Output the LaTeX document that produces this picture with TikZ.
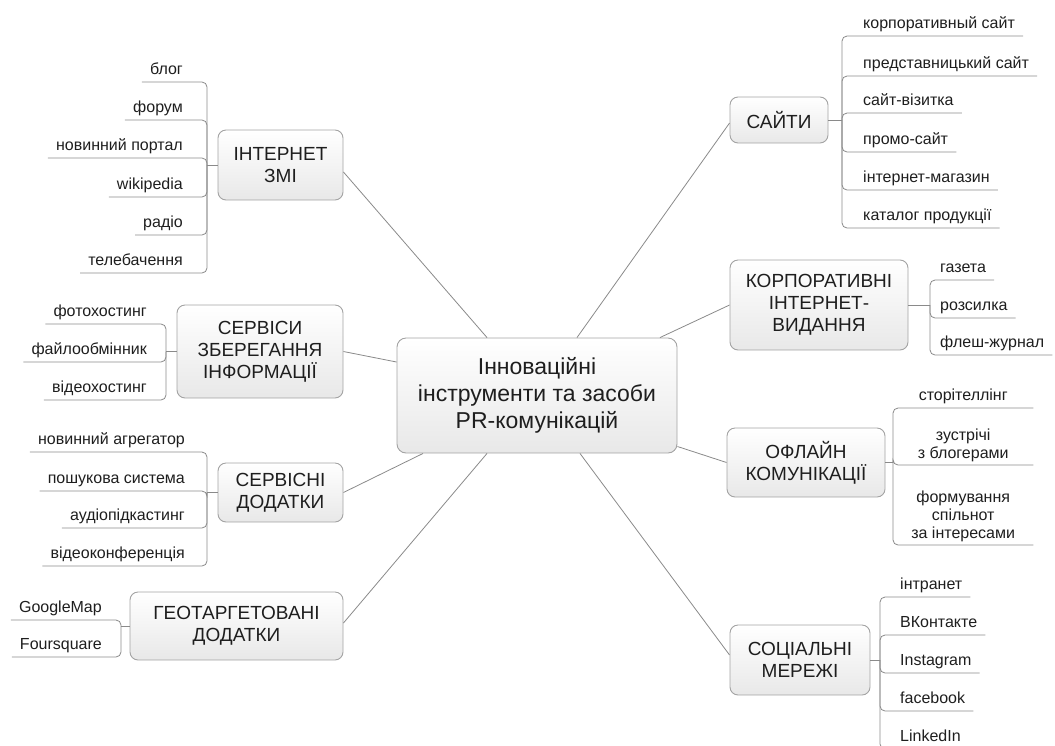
\documentclass[tikz,border=0pt]{standalone}
\usepackage{fontspec}
\setmainfont{Liberation Sans}
\usetikzlibrary{positioning, calc}
\definecolor{boxline}{HTML}{A3A3A3}
\definecolor{twigline}{HTML}{8A8A8A}
\definecolor{ink}{HTML}{1E1E1E}
\tikzset{
  hubbox/.style={draw=boxline, line width=0.9pt, rounded corners=9pt, top color=white, bottom color=black!9, align=center, text=ink, font=\fontsize{23}{27}\selectfont, minimum width=280pt, minimum height=115pt},
  branchbox/.style={draw=boxline, line width=0.9pt, rounded corners=8pt, top color=white, bottom color=black!9, align=center, text=ink, font=\fontsize{19}{22}\selectfont, inner sep=2pt},
  leaftext/.style={inner xsep=8pt, inner ysep=3pt, text height=11.5pt, text depth=4pt, text=ink, font=\fontsize{16}{18}\selectfont},
  leafmulti/.style={inner xsep=8pt, inner ysep=3pt, align=center, text=ink, font=\fontsize{16}{18}\selectfont},
  twig/.style={draw=twigline, line width=0.8pt, rounded corners=5pt},
  spoke/.style={draw=twigline, line width=0.8pt}
}
\begin{document}
\begin{tikzpicture}[x=1pt,y=-1pt]
        \useasboundingbox (0,0) rectangle (1055,745);
        \clip (0,0) rectangle (1055,745);
        %centro
        \node[hubbox] (hub) at (537,395.5) {Інноваційні\\інструменти та засоби\\PR-комунікацій};
        %gruppi a sinistra
        \node[branchbox, minimum width=125pt, minimum height=70pt] (zmi) at (280.5,165) {ІНТЕРНЕТ\\ЗМІ};
        \node[branchbox, minimum width=166pt, minimum height=93pt] (store) at (260,351.5) {СЕРВІСИ\\ЗБЕРЕГАННЯ\\ІНФОРМАЦІЇ};
        \node[branchbox, minimum width=125pt, minimum height=59pt] (serv) at (280.5,492.5) {СЕРВІСНІ\\ДОДАТКИ};
        \node[branchbox, minimum width=213pt, minimum height=68pt] (geo) at (236.5,626) {ГЕОТАРГЕТОВАНІ\\ДОДАТКИ};
        %gruppi a destra
        \node[branchbox, minimum width=98pt, minimum height=46pt] (sites) at (779,120) {САЙТИ};
        \node[branchbox, minimum width=178pt, minimum height=90pt] (korp) at (819,305) {КОРПОРАТИВНІ\\ІНТЕРНЕТ-\\ВИДАННЯ};
        \node[branchbox, minimum width=158pt, minimum height=69pt] (ofl) at (806,462.5) {ОФЛАЙН\\КОМУНІКАЦІЇ};
        \node[branchbox, minimum width=140pt, minimum height=70pt] (soc) at (800,660) {СОЦІАЛЬНІ\\МЕРЕЖІ};
        %raggi dal centro
        \draw[spoke] ([xshift=-50pt]hub.north) -- ([yshift=-7pt]zmi.east);
        \draw[spoke] ([yshift=33.5pt]hub.west) -- (store.east);
        \draw[spoke] ([xshift=-114pt]hub.south) -- (serv.east);
        \draw[spoke] ([xshift=-50pt]hub.south) -- ([yshift=3pt]geo.east);
        \draw[spoke] ([xshift=40pt]hub.north) -- ([yshift=-3pt]sites.west);
        \draw[spoke] ([xshift=123pt]hub.north) -- (korp.west);
        \draw[spoke] ([yshift=-51pt]hub.east) -- (ofl.west);
        \draw[spoke] ([xshift=43pt]hub.south) -- ([yshift=5pt]soc.west);
        %punti di raccordo
        \coordinate (zmiB) at (207,165);
        \coordinate (storeB) at (166,351.5);
        \coordinate (servB) at (207,492.5);
        \coordinate (geoB) at (121,626);
        \coordinate (sitesB) at (842,120);
        \coordinate (korpB) at (930,305);
        \coordinate (oflB) at (893,462.5);
        \coordinate (socB) at (880,660);
        \draw[twig] (zmiB) -- (zmi.west);
        \draw[twig] (storeB) -- (store.west);
        \draw[twig] (servB) -- (serv.west);
        \draw[twig] (geoB) -- (geo.west);
        \draw[twig] (sitesB) -- (sites.east);
        \draw[twig] (korpB) -- (korp.east);
        \draw[twig] (oflB) -- (ofl.east);
        \draw[twig] (socB) -- (soc.east);
        %foglie ІНТЕРНЕТ ЗМІ
        \node[leaftext, anchor=south east] (zmi1) at (191,82) {блог};
        \node[leaftext, anchor=south east] (zmi2) at (191,120) {форум};
        \node[leaftext, anchor=south east] (zmi3) at (191,158) {новинний портал};
        \node[leaftext, anchor=south east] (zmi4) at (191,197) {wikipedia};
        \node[leaftext, anchor=south east] (zmi5) at (191,235) {радіо};
        \node[leaftext, anchor=south east] (zmi6) at (191,273) {телебачення};
        \draw[twig] (zmi1.south west) -- (zmi1.south west -| zmiB) -- (zmiB);
        \draw[twig] (zmi2.south west) -- (zmi2.south west -| zmiB) -- (zmiB);
        \draw[twig] (zmi3.south west) -- (zmi3.south west -| zmiB) -- (zmiB);
        \draw[twig] (zmi4.south west) -- (zmi4.south west -| zmiB) -- (zmiB);
        \draw[twig] (zmi5.south west) -- (zmi5.south west -| zmiB) -- (zmiB);
        \draw[twig] (zmi6.south west) -- (zmi6.south west -| zmiB) -- (zmiB);
        %foglie СЕРВІСИ ЗБЕРЕГАННЯ
        \node[leaftext, anchor=south east] (store1) at (155,324) {фотохостинг};
        \node[leaftext, anchor=south east] (store2) at (155,362) {файлообмінник};
        \node[leaftext, anchor=south east] (store3) at (155,400) {відеохостинг};
        \draw[twig] (store1.south west) -- (store1.south west -| storeB) -- (storeB);
        \draw[twig] (store2.south west) -- (store2.south west -| storeB) -- (storeB);
        \draw[twig] (store3.south west) -- (store3.south west -| storeB) -- (storeB);
        %foglie СЕРВІСНІ ДОДАТКИ
        \node[leaftext, anchor=south east] (serv1) at (193,452) {новинний агрегатор};
        \node[leaftext, anchor=south east] (serv2) at (193,491) {пошукова система};
        \node[leaftext, anchor=south east] (serv3) at (193,528) {аудіопідкастинг};
        \node[leaftext, anchor=south east] (serv4) at (193,566) {відеоконференція};
        \draw[twig] (serv1.south west) -- (serv1.south west -| servB) -- (servB);
        \draw[twig] (serv2.south west) -- (serv2.south west -| servB) -- (servB);
        \draw[twig] (serv3.south west) -- (serv3.south west -| servB) -- (servB);
        \draw[twig] (serv4.south west) -- (serv4.south west -| servB) -- (servB);
        %foglie ГЕОТАРГЕТОВАНІ
        \node[leaftext, anchor=south east] (geo1) at (110,620) {GoogleMap};
        \node[leaftext, anchor=south east] (geo2) at (110,657) {Foursquare};
        \draw[twig] (geo1.south west) -- (geo1.south west -| geoB) -- (geoB);
        \draw[twig] (geo2.south west) -- (geo2.south west -| geoB) -- (geoB);
        %foglie САЙТИ
        \node[leaftext, anchor=south west] (sites1) at (855,36) {корпоративный сайт};
        \node[leaftext, anchor=south west] (sites2) at (855,76) {представницький сайт};
        \node[leaftext, anchor=south west] (sites3) at (855,113) {сайт-візитка};
        \node[leaftext, anchor=south west] (sites4) at (855,152) {промо-сайт};
        \node[leaftext, anchor=south west] (sites5) at (855,190) {інтернет-магазин};
        \node[leaftext, anchor=south west] (sites6) at (855,228) {каталог продукції};
        \draw[twig] (sites1.south east) -- (sites1.south east -| sitesB) -- (sitesB);
        \draw[twig] (sites2.south east) -- (sites2.south east -| sitesB) -- (sitesB);
        \draw[twig] (sites3.south east) -- (sites3.south east -| sitesB) -- (sitesB);
        \draw[twig] (sites4.south east) -- (sites4.south east -| sitesB) -- (sitesB);
        \draw[twig] (sites5.south east) -- (sites5.south east -| sitesB) -- (sitesB);
        \draw[twig] (sites6.south east) -- (sites6.south east -| sitesB) -- (sitesB);
        %foglie КОРПОРАТИВНІ
        \node[leaftext, anchor=south west] (korp1) at (932,280) {газета};
        \node[leaftext, anchor=south west] (korp2) at (932,318) {розсилка};
        \node[leaftext, anchor=south west] (korp3) at (932,355) {флеш-журнал};
        \draw[twig] (korp1.south east) -- (korp1.south east -| korpB) -- (korpB);
        \draw[twig] (korp2.south east) -- (korp2.south east -| korpB) -- (korpB);
        \draw[twig] (korp3.south east) -- (korp3.south east -| korpB) -- (korpB);
        %foglie ОФЛАЙН
        \node[leaftext, anchor=south west, minimum width=140pt] (ofl1) at (893,408) {сторітеллінг};
        \node[leafmulti, anchor=south west, minimum width=140pt] (ofl2) at (893,465) {зустрічі\\з блогерами};
        \node[leafmulti, anchor=south west, minimum width=140pt] (ofl3) at (893,545) {формування\\спільнот\\за інтересами};
        \draw[twig] (ofl1.south east) -- (ofl1.south east -| oflB) -- (oflB);
        \draw[twig] (ofl2.south east) -- (ofl2.south east -| oflB) -- (oflB);
        \draw[twig] (ofl3.south east) -- (ofl3.south east -| oflB) -- (oflB);
        %foglie СОЦІАЛЬНІ МЕРЕЖІ
        \node[leaftext, anchor=south west] (soc1) at (892,597) {інтранет};
        \node[leaftext, anchor=south west] (soc2) at (892,635) {ВКонтакте};
        \node[leaftext, anchor=south west] (soc3) at (892,673) {Instagram};
        \node[leaftext, anchor=south west] (soc4) at (892,711) {facebook};
        \node[leaftext, anchor=south west] (soc5) at (892,749) {LinkedIn};
        \draw[twig] (soc1.south east) -- (soc1.south east -| socB) -- (socB);
        \draw[twig] (soc2.south east) -- (soc2.south east -| socB) -- (socB);
        \draw[twig] (soc3.south east) -- (soc3.south east -| socB) -- (socB);
        \draw[twig] (soc4.south east) -- (soc4.south east -| socB) -- (socB);
        \draw[twig] (soc5.south east) -- (soc5.south east -| socB) -- (socB);
\end{tikzpicture}
\end{document}
